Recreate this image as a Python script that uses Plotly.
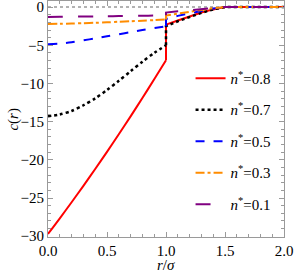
import plotly.graph_objects as go

# r/sigma grid (duplicate 1.0 marks the jump at contact)
r = [0.0, 0.1, 0.2, 0.3, 0.4, 0.5, 0.6, 0.7, 0.8, 0.9, 1.0,
     1.0, 1.1, 1.2, 1.3, 1.4, 1.5, 2.0]

c_08 = [-29.7, -27.65, -25.55, -23.4, -21.2, -18.95, -16.65, -14.3, -11.9, -9.45, -6.95,
        -2.3, -1.75, -1.2, -0.7, -0.3, 0.0, 0.0]
c_07 = [-14.3, -14.05, -13.6, -12.85, -11.95, -10.85, -9.65, -8.4, -7.15, -6.0, -5.0,
        -2.5, -1.85, -1.25, -0.75, -0.3, 0.0, 0.0]
c_05 = [-4.85, -4.78, -4.6, -4.35, -4.1, -3.82, -3.55, -3.27, -3.0, -2.75, -2.5,
        -1.55, -1.15, -0.8, -0.45, -0.18, 0.0, 0.0]
c_03 = [-2.2, -2.18, -2.15, -2.1, -2.05, -1.99, -1.92, -1.85, -1.78, -1.7, -1.62,
        -1.1, -0.85, -0.6, -0.35, -0.14, 0.0, 0.0]
c_01 = [-1.28, -1.27, -1.25, -1.24, -1.22, -1.2, -1.18, -1.16, -1.13, -1.11, -1.08,
        -0.72, -0.55, -0.4, -0.24, -0.1, 0.0, 0.0]

zero_x = [0.0, 2.0]
zero_y = [0.0, 0.0]

labels = ["0.8", "0.7", "0.5", "0.3", "0.1"]
series = [c_08, c_07, c_05, c_03, c_01]
colors = ["#ff0000", "#000000", "#0000ff", "#ff8c00", "#800080"]
dashes = ["solid", "dot", "dash", "dashdot", "longdash"]
widths = [2, 2.5, 2, 2, 2]

SPLIT = 11  # index where the outer (r >= 1) branch starts

fig = go.Figure()
fig.add_trace(go.Scatter(x=zero_x, y=zero_y, mode="lines",
                         line=dict(color="#999999", dash="dot", width=1.5),
                         showlegend=False, hoverinfo="skip"))
for lab, ys, col, d, w in zip(labels, series, colors, dashes, widths):
    fig.add_trace(go.Scatter(x=r[:SPLIT], y=ys[:SPLIT], mode="lines",
                             line=dict(color=col, dash=d, width=w, shape="spline", smoothing=0.8),
                             name="<i>n</i><sup>*</sup>=" + lab,
                             legendgroup=lab))
    fig.add_trace(go.Scatter(x=r[SPLIT - 1:], y=ys[SPLIT - 1:], mode="lines",
                             line=dict(color=col, dash=d, width=w),
                             showlegend=False, legendgroup=lab))

font = "Liberation Serif"
axcommon = dict(showline=True, linecolor="#9a9a9a", linewidth=1, mirror="allticks",
                ticks="inside", tickcolor="#9a9a9a", ticklen=5, showgrid=False,
                zeroline=False, automargin=False, ticklabeloverflow="allow",
                tickfont=dict(family=font, size=15, color="black"))
fig.update_layout(
    width=294, height=273,
    margin=dict(l=48, r=10, t=1, b=36),
    paper_bgcolor="white", plot_bgcolor="white",
    xaxis=dict(range=[0, 2], tickvals=[0, 0.5, 1.0, 1.5, 2.0],
               ticktext=["0.0", "0.5", "1.0", "1.5", "2.0"],
               minor=dict(dtick=0.1, ticks="inside", ticklen=3, tickcolor="#9a9a9a"),
               **axcommon),
    yaxis=dict(range=[-30.1, 0.8], tickvals=[-30, -25, -20, -15, -10, -5, 0],
               minor=dict(dtick=1, ticks="inside", ticklen=3, tickcolor="#9a9a9a"),
               **axcommon),
    legend=dict(x=0.604, y=0.742, xanchor="left", yanchor="top",
                font=dict(family=font, size=15, color="black"),
                bgcolor="rgba(0,0,0,0)", itemwidth=30, tracegroupgap=9),
    annotations=[
        dict(text="<i>r</i>/<i>σ</i>", xref="paper", yref="paper", x=0.5, y=-0.082,
             xanchor="center", yanchor="top", showarrow=False, borderpad=0,
             font=dict(family=font, size=15, color="black")),
        dict(text="<i>c</i>(<i>r</i>)", xref="paper", yref="paper", x=-0.15, y=0.5,
             xanchor="center", yanchor="middle", textangle=-90, showarrow=False,
             font=dict(family=font, size=15, color="black")),
    ],
)

fig.write_html("out.html", config={"displayModeBar": False},
               post_script="document.body.style.margin='0';document.body.style.padding='0';")
